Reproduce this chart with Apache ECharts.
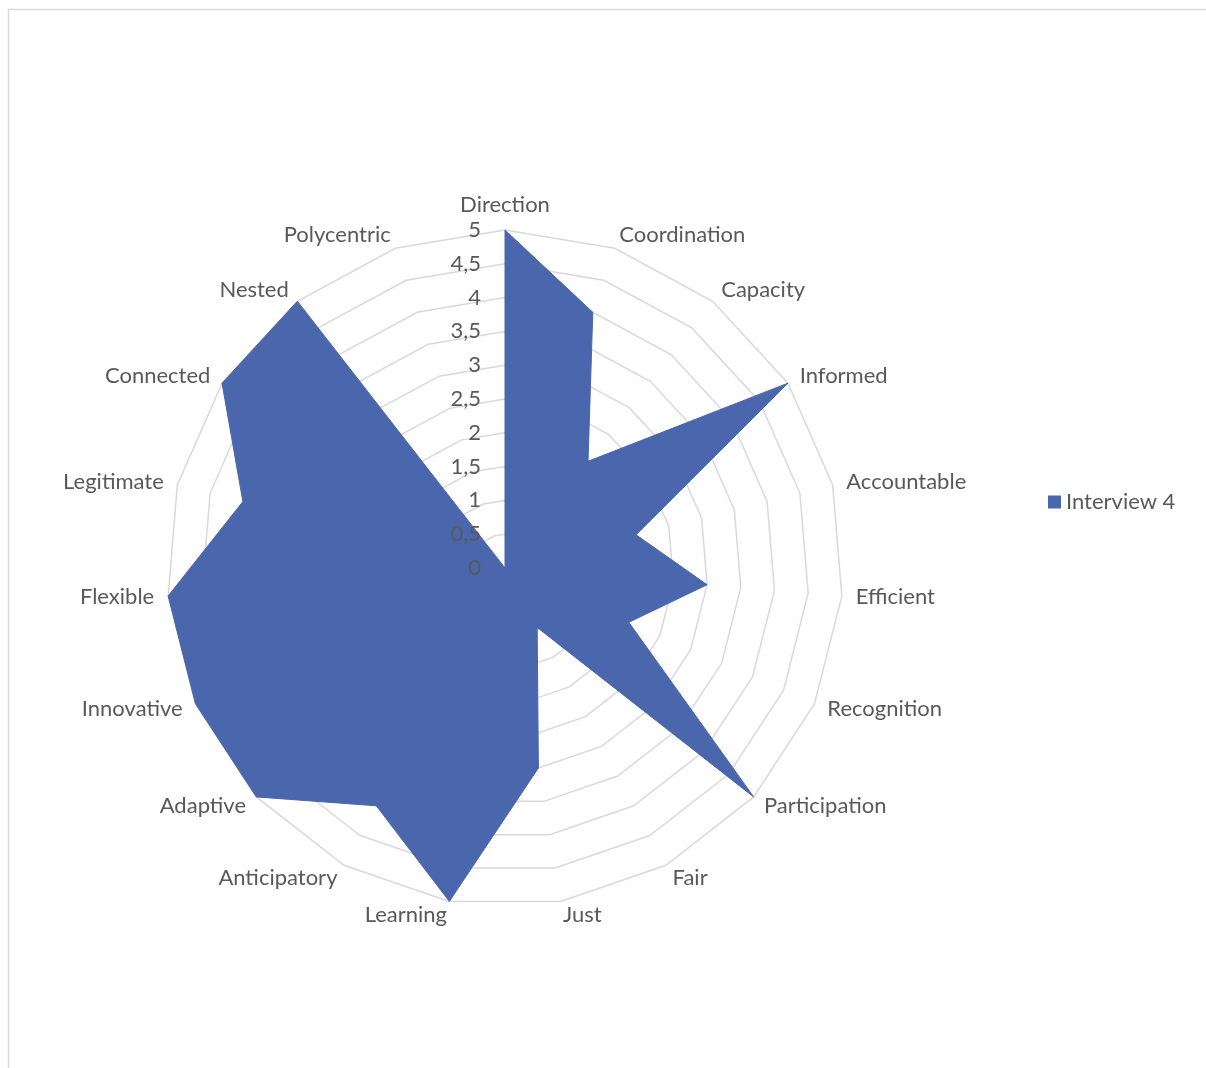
<!DOCTYPE html>
<html>
<head>
<meta charset="utf-8">
<script src="https://cdn.jsdelivr.net/npm/echarts@6/dist/echarts.min.js"></script>
<style>
html,body{margin:0;padding:0;background:#fff;}
#chart{width:1206px;height:1068px;}
</style>
</head>
<body>
<div id="chart"></div>
<script>
// Categories in clockwise order starting at top
const categories = ["Direction","Coordination","Capacity","Informed","Accountable","Efficient","Recognition","Participation","Fair","Just","Learning","Anticipatory","Adaptive","Innovative","Flexible","Legitimate","Connected","Nested","Polycentric"];
const values = [5,4,2,5,2,3,2,5,1,3,5,4,5,5,5,4,5,5,0];
const seriesName = "Interview 4";
const axisMin = 0;
const axisMax = 5;

// ECharts radar goes counter-clockwise; reorder to keep clockwise layout
const order = [0].concat(categories.map((_, i) => i).slice(1).reverse());
const dataOrdered = order.map(i => values[i]);

const font = 'Lato, "Open Sans", sans-serif';
const textColor = '#595959';
const fs = 22;

// grid radar (below series) with category names
const gridIndicators = order.map(i => ({ name: categories[i], min: axisMin, max: axisMax }));
// label radar (above series) with tick labels on the top axis only
const labelIndicators = order.map((i, k) => ({
  name: '', min: axisMin, max: axisMax,
  axisLabel: { show: k === 0 }
}));

const common = { center: [505, 568], radius: 338, startAngle: 90, shape: 'polygon', splitNumber: 10 };

const chart = echarts.init(document.getElementById('chart'));
chart.setOption({
  animation: false,
  textStyle: { fontFamily: font },
  graphic: [{
    type: 'rect', shape: { x: 8.5, y: 9.5, width: 1300, height: 1200 },
    style: { fill: 'none', stroke: '#d9d9d9', lineWidth: 1.5 }, silent: true
  }],
  legend: {
    data: [seriesName], orient: 'vertical', left: 1043, top: 486,
    icon: 'rect', itemWidth: 13, itemHeight: 13, itemGap: 5,
    textStyle: { fontSize: fs, color: textColor, fontFamily: font }
  },
  radar: [
    Object.assign({}, common, {
      z: 1,
      indicator: gridIndicators,
      axisName: { color: textColor, fontSize: fs, fontFamily: font },
      nameGap: 14,
      axisLine: { show: false },
      axisTick: { show: false },
      splitArea: { show: false },
      splitLine: { lineStyle: { color: '#d9d9d9', width: 1.5 } },
      axisLabel: { show: false }
    }),
    Object.assign({}, common, {
      z: 5,
      indicator: labelIndicators,
      axisName: { show: false },
      axisLine: { show: false },
      axisTick: { show: false },
      splitArea: { show: false },
      splitLine: { show: false },
      axisLabel: {
        show: true, showMinLabel: true, showMaxLabel: true,
        color: textColor, fontSize: fs, fontFamily: font, margin: 24,
        formatter: v => String(v).replace('.', ',')
      }
    })
  ],
  series: [{
    type: 'radar', name: seriesName, symbol: 'none', radarIndex: 0, z: 2,
    lineStyle: { color: '#4A66AC', width: 1 },
    itemStyle: { color: '#4A66AC' },
    areaStyle: { color: '#4A66AC', opacity: 1 },
    data: [{ value: dataOrdered, name: seriesName }]
  }]
});
</script>
</body>
</html>
